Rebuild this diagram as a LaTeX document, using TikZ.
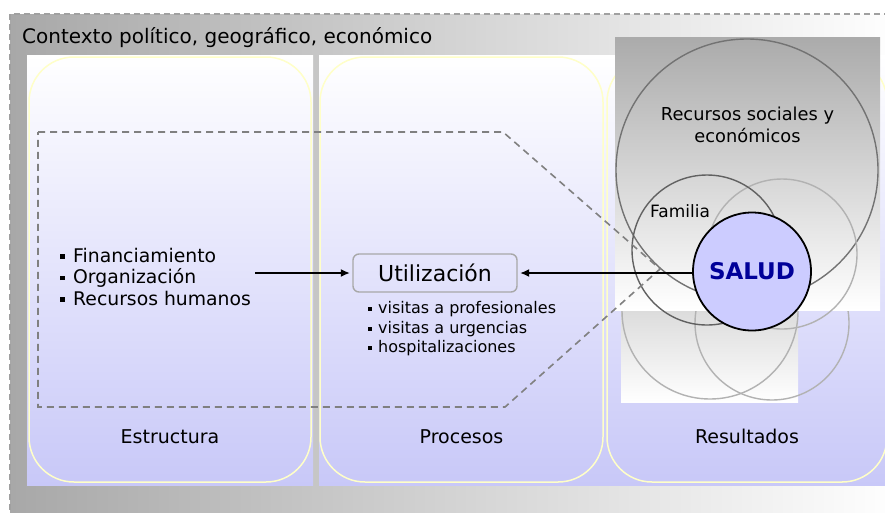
\documentclass[tikz,border=0pt]{standalone}
\usepackage{fontspec}
\setmainfont{DejaVu Sans}
\usetikzlibrary{arrows.meta}
\definecolor{frameL}{HTML}{A8A8A8}
\definecolor{framedash}{HTML}{A0A0A0}
\definecolor{lav}{HTML}{C8C8F8}
\definecolor{yel}{HTML}{FFFFC8}
\definecolor{boxgray}{HTML}{A8A8A8}
\definecolor{saludfill}{HTML}{CCCCFF}
\definecolor{saludtext}{HTML}{000099}
\definecolor{dashgray}{HTML}{808080}
\newcommand{\bulA}{\rule[3.5pt]{4.5pt}{4.5pt}\hspace{8.5pt}}
\newcommand{\bulB}{\rule[2.5pt]{4pt}{4pt}\hspace{6pt}}
\tikzset{
  colbox/.style={draw=yel, line width=1.5pt, rounded corners=45pt},
  panel/.style={top color=white, bottom color=lav, draw=none},
  ring/.style={line width=1.4pt},
  txtA/.style={anchor=base west, inner sep=0pt, font=\fontsize{18.8}{21.5}\selectfont},
  txtB/.style={anchor=base west, inner sep=0pt, font=\fontsize{16}{19.5}\selectfont},
  coltitle/.style={anchor=base, inner sep=0pt, font=\fontsize{19}{22}\selectfont},
  arr/.style={-{Latex[length=9pt,width=8pt]}, line width=1.4pt, black, shorten >=2.5pt},
}
\begin{document}
\begin{tikzpicture}[x=1pt,y=-1pt]
\useasboundingbox (0,0) rectangle (885,512);
\begin{scope}
\clip (0,0) rectangle (885,512);
% outer frame
\shade[left color=frameL, right color=white] (10,14) rectangle (900,530);
\draw[framedash, line width=1.6pt, dash pattern=on 6pt off 4pt] (10,530) -- (10,14) -- (900,14);
\node[anchor=base west, inner sep=0pt, font=\fontsize{20}{24}\selectfont] (ctx) at (22,43) {Contexto político, geográfico, económico};
% panels
\shade[panel] (27,55) rectangle (313,485);
\shade[panel] (319,55) rectangle (890,485);
\draw[colbox] (29,57) rectangle (311,482);
\draw[colbox] (320,57) rectangle (603,482);
\draw[colbox] (607,57) rectangle (887,482);
% lower rectangle and circles
\shade[top color=black!14, bottom color=white] (621,309) rectangle (798,402);
\draw[ring, draw=black!30] (710,311) circle[radius=88];
\draw[ring, draw=black!30] (772,323) circle[radius=77];
% upper rectangle and circles
\shade[top color=black!33, bottom color=white] (615,37) rectangle (880,310);
\draw[ring, draw=black!55] (747,170) circle[radius=131];
\draw[ring, draw=black!30] (782,254) circle[radius=75];
\draw[ring, draw=black!62] (707,250) circle[radius=75];
\node[align=center, inner sep=0pt, anchor=base, font=\fontsize{17.8}{21.5}\selectfont] (rec) at (747.5,142) {Recursos sociales y\\económicos};
\node[anchor=base west, inner sep=0pt, font=\fontsize{17}{20}\selectfont] (fam) at (650,217) {Familia};
% dashed funnel
\draw[dashgray, line width=1.6pt, dash pattern=on 7pt off 5pt] (38,132) -- (503,132) -- (660,269) -- (505,407) -- (38,407) -- cycle;
% SALUD
\node[circle, draw=black, line width=1.8pt, fill=saludfill, minimum size=118pt, inner sep=0pt,
      font=\fontsize{23}{26}\selectfont\bfseries, text=saludtext] (salud) at (752,271.5) {SALUD};
% Utilizacion box
\node[draw=boxgray, line width=1.4pt, rounded corners=6pt, minimum width=164pt, minimum height=38pt,
      inner sep=0pt, font=\fontsize{22}{26}\selectfont] (util) at (435,273) {Utilización};
% lists
\node[txtA] (f1) at (60,262) {\bulA Financiamiento};
\node[txtA] (f2) at (60,283.5) {\bulA Organización};
\node[txtA] (f3) at (60,305) {\bulA Recursos humanos};
\node[txtB] (p1) at (368,313) {\bulB visitas a profesionales};
\node[txtB] (p2) at (368,333) {\bulB visitas a urgencias};
\node[txtB] (p3) at (368,352.5) {\bulB hospitalizaciones};
% arrows
\coordinate (a1) at (255,273);
\draw[arr] (a1) -- (util.west);
\draw[arr] (util.east -| salud.west) -- (util.east);
% column titles
\node[coltitle] (est) at (170,443) {Estructura};
\node[coltitle] (pro) at (461.5,443) {Procesos};
\node[coltitle] (res) at (747,443) {Resultados};
\end{scope}
\end{tikzpicture}
\end{document}
